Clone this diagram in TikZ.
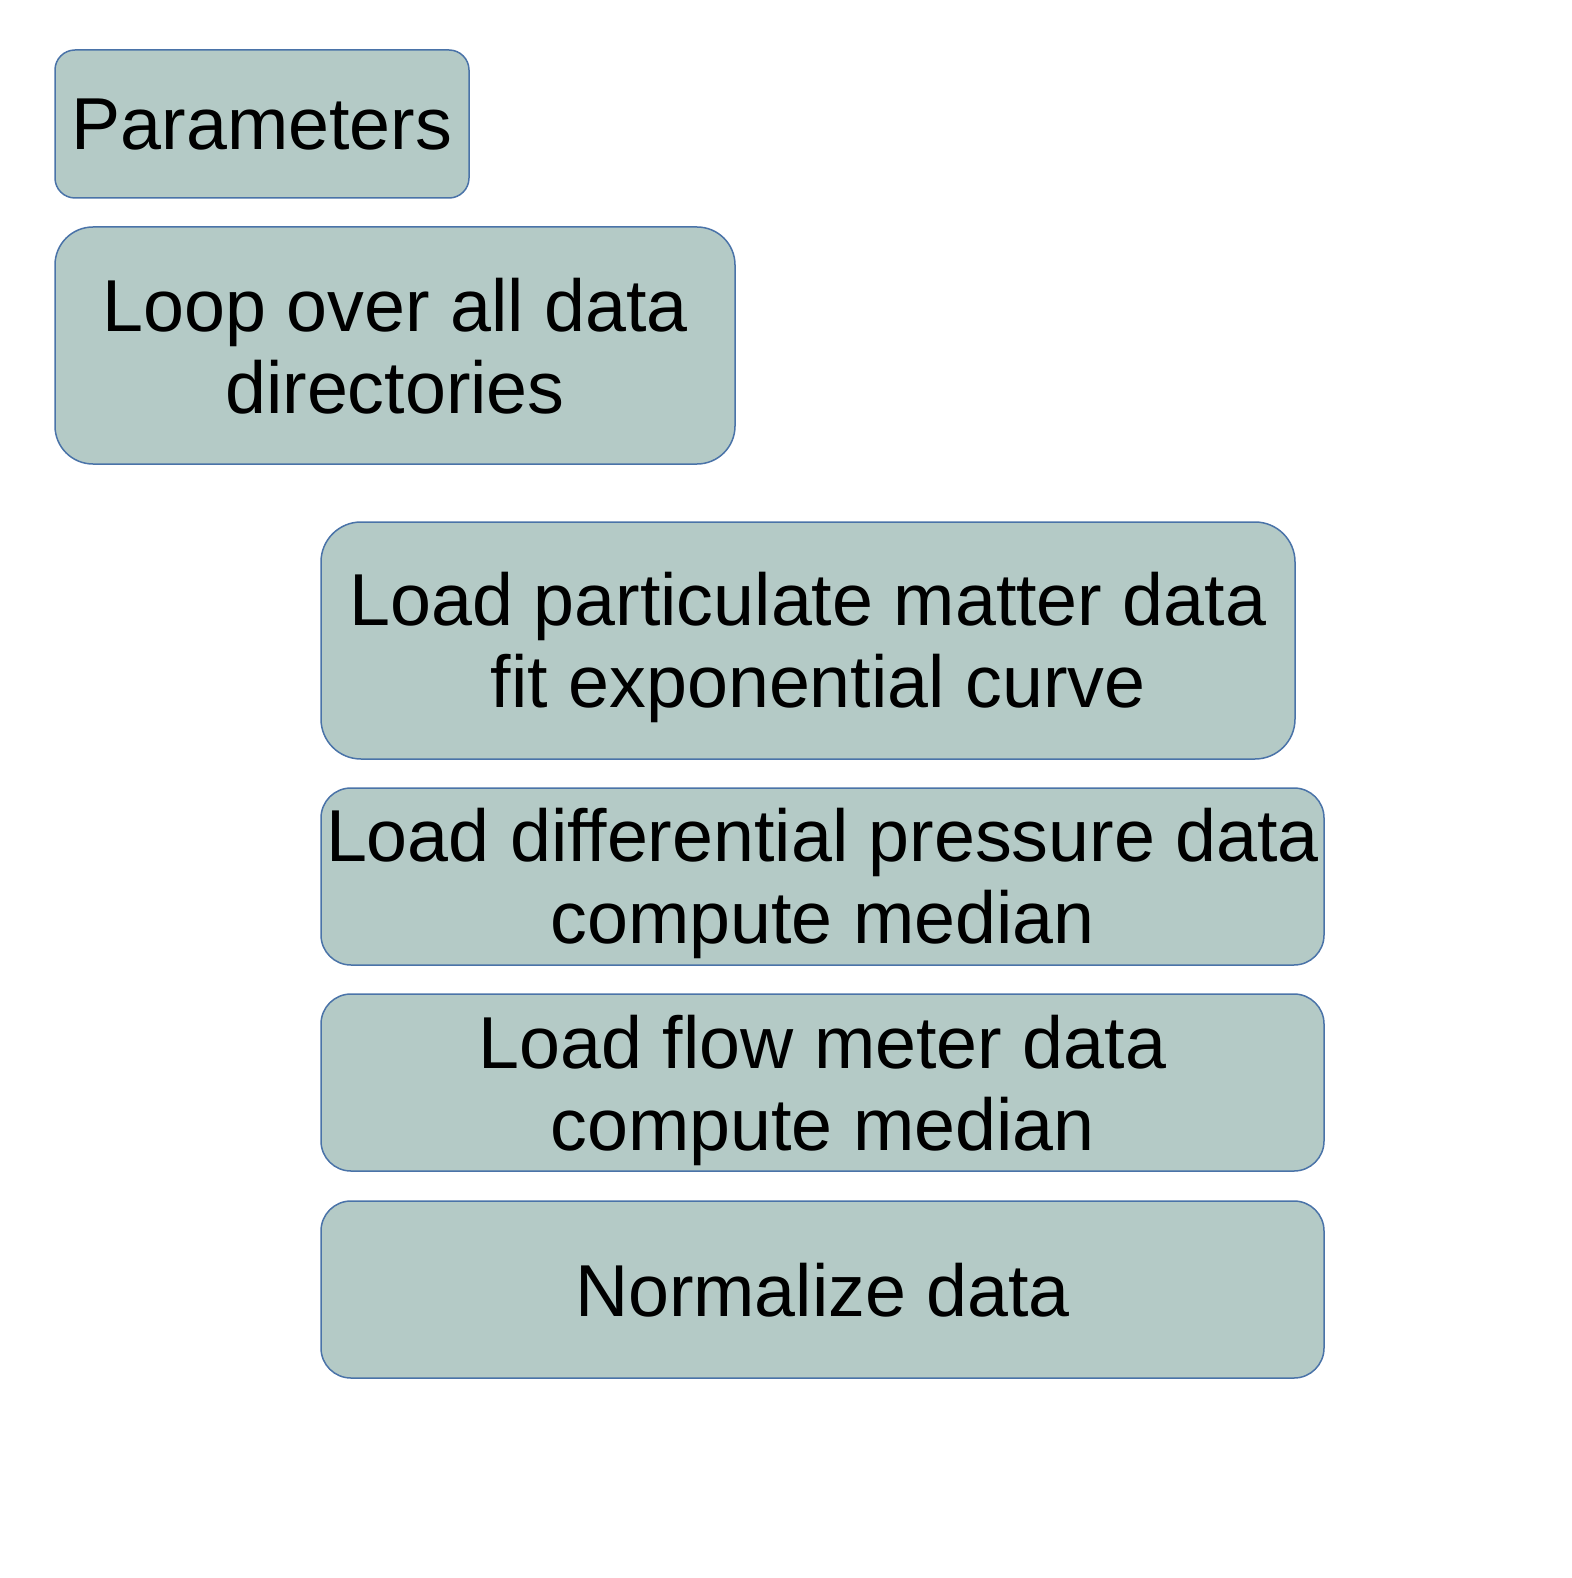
\documentclass[tikz,border=0pt]{standalone}
\usepackage{fontspec}
\setmainfont{Liberation Sans}
\definecolor{boxfill}{HTML}{B4CAC6}
\definecolor{boxedge}{HTML}{4A73A8}
\tikzset{
  stepbox/.style={draw=boxedge, fill=boxfill, line width=1.5pt, inner sep=0pt},
  steptext/.style={anchor=base, inner sep=0pt, text=black,
    font=\fontsize{73.6}{82}\selectfont}
}
% two centred lines; the baseline of the whole block is that of the first line
\newcommand\twolines[2]{\begin{tabular}[t]{@{}c@{}}#1\\#2\end{tabular}}
\begin{document}
\begin{tikzpicture}[x=1pt,y=-1pt]
  \useasboundingbox (0,0) rectangle (1571,1578);
  % boxes
  \node[stepbox, minimum width=414pt, minimum height=148pt, rounded corners=20pt] (params) at (262,124) {};
  \node[stepbox, minimum width=680pt, minimum height=237pt, rounded corners=38pt] (loop) at (395,345.5) {};
  \node[stepbox, minimum width=974pt, minimum height=237pt, rounded corners=40pt] (pm) at (808,640.5) {};
  \node[stepbox, minimum width=1003pt, minimum height=177pt, rounded corners=30pt] (dp) at (822.5,876.5) {};
  \node[stepbox, minimum width=1003pt, minimum height=177pt, rounded corners=30pt] (flow) at (822.5,1082.5) {};
  \node[stepbox, minimum width=1003pt, minimum height=177pt, rounded corners=30pt] (norm) at (822.5,1289.5) {};
  % labels
  \node[steptext] (paramstext) at ([yshift=-26pt]params.center) {Parameters};
  \node[steptext] (looptext) at ([yshift=14.5pt]loop.center) {\twolines{Loop over all data}{directories}};
  \node[steptext] (pmtext) at ([yshift=15.5pt]pm.center) {\twolines{Load particulate matter data}{\hspace*{.278em}fit exponential curve}};
  \node[steptext] (dptext) at ([yshift=15pt]dp.center) {\twolines{Load differential pressure data}{compute median}};
  \node[steptext] (flowtext) at ([yshift=14.5pt]flow.center) {\twolines{Load flow meter data}{compute median}};
  \node[steptext] (normtext) at ([yshift=-26.5pt]norm.center) {Normalize data};
\end{tikzpicture}
\end{document}
